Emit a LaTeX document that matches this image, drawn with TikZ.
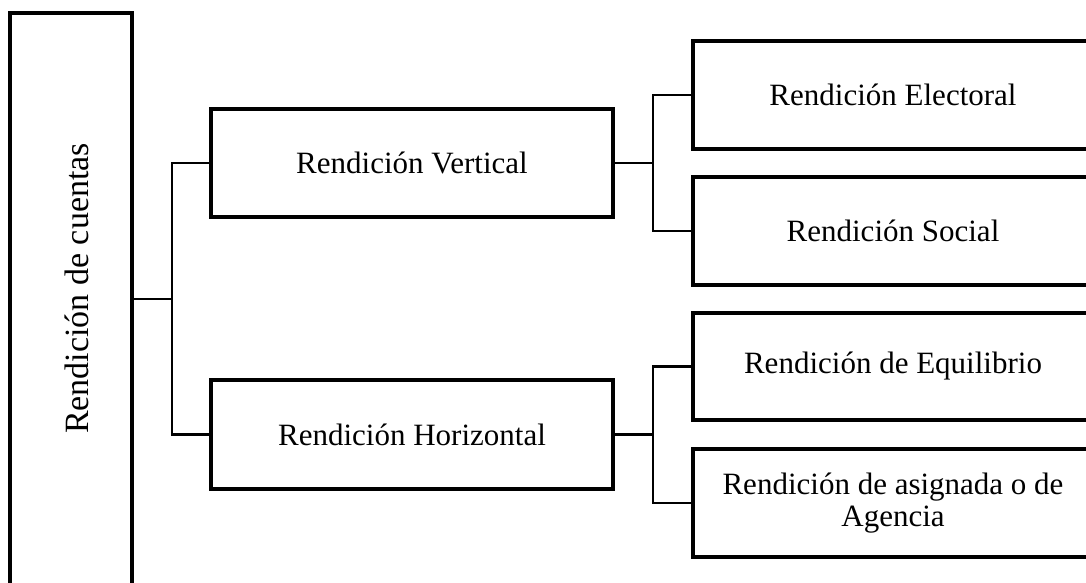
\documentclass[tikz,border=0pt]{standalone}
\usepackage{fontspec}
\setmainfont{Liberation Serif}
\begin{document}
\begin{tikzpicture}[x=1pt,y=-1pt,
  box/.style={draw=black,line width=4pt,inner sep=0pt,outer sep=0pt,align=center,
    font=\fontsize{31}{32}\selectfont},
  conn/.style={draw=black,line width=2.5pt}]
\useasboundingbox (0,0) rectangle (1086,582);
\clip (0,0) rectangle (1086,582);
\fill[white] (0,0) rectangle (1086,582);
% root box
\node[box,minimum width=122pt,minimum height=572pt] (root) at (71,299) {};
\node[rotate=90,font=\fontsize{34}{35}\selectfont,inner sep=0pt] (roottext) at (77,288.5) {Rendición de cuentas};
% level 1
\node[box,minimum width=402pt,minimum height=108pt] (vert) at (412,163) {Rendición Vertical};
\node[box,minimum width=402pt,minimum height=109pt] (hor) at (412,434.5) {Rendición Horizontal};
% level 2
\node[box,minimum width=400pt,minimum height=108pt] (elec) at (893,95) {Rendición Electoral};
\node[box,minimum width=400pt,minimum height=108pt] (soc) at (893,231) {Rendición Social};
\node[box,minimum width=400pt,minimum height=107pt] (equi) at (893,366.5) {Rendición de Equilibrio};
\node[box,minimum width=400pt,minimum height=108pt] (agen) at (893,503) {Rendición de asignada o de\\Agencia};
% junctions
\coordinate (j1) at (172,299);
\coordinate (j2) at (653,163);
\coordinate (j3) at (653,434.5);
% connectors
\draw[conn] (root.east) -- (j1);
\draw[conn] (vert.west) -| (j1) |- (hor.west);
\draw[conn] (vert.east) -- (j2);
\draw[conn] (elec.west) -| (j2) |- (soc.west);
\draw[conn] (hor.east) -- (j3);
\draw[conn] (equi.west) -| (j3) |- (agen.west);
\end{tikzpicture}
\end{document}
